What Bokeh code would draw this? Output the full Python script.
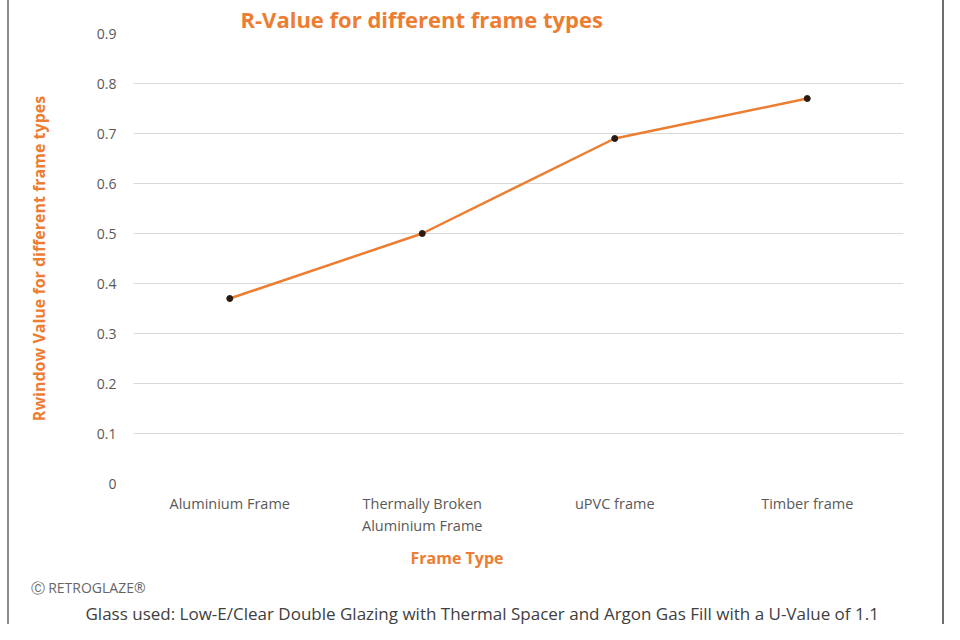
from bokeh.plotting import figure
from bokeh.models import FactorRange, Range1d, FixedTicker, PrintfTickFormatter, Title, ColumnDataSource
from bokeh.embed import file_html
from bokeh.resources import INLINE

categories = ["Aluminium Frame", "Thermally Broken\nAluminium Frame", "uPVC frame", "Timber frame"]
r_values = [0.37, 0.50, 0.69, 0.77]
y_ticks = [0, 0.1, 0.2, 0.3, 0.4, 0.5, 0.6, 0.7, 0.8, 0.9]

title_text = "R-Value for different frame types"
x_title = "Frame Type"
y_title = "Rwindow Value for different frame types"
copyright_text = "\u24b8 RETROGLAZE\u00ae"
footnote = "Glass used: Low-E/Clear Double Glazing with Thermal Spacer and Argon Gas Fill with a U-Value of 1.1"

ORANGE = "#ED7D31"
FONT = "Open Sans"

p = figure(width=944, height=624, output_backend="svg", toolbar_location=None,
           x_range=FactorRange(factors=categories, range_padding=0),
           y_range=Range1d(0, 0.9),
           min_border_left=133, min_border_right=41, min_border_top=33, min_border_bottom=141)
p.outline_line_color = None
p.background_fill_color = None
p.border_fill_color = None
p.styles = {"box-shadow": "inset 7px 0 0 white, inset 9px 0 0 #8c8c8c, inset -2px 0 0 #6e6e6e"}

src = ColumnDataSource(dict(x=categories, y=r_values))
p.line("x", "y", source=src, line_color=ORANGE, line_width=2.5)
p.scatter("x", "y", source=src, size=6, fill_color="#2b1a10", line_color="#2b1a10")

p.xgrid.grid_line_color = None
p.ygrid.grid_line_color = "#D9D9D9"
p.ygrid.grid_line_width = 1.2

# chart title (above)
p.title.text = title_text
p.title.text_font = FONT
p.title.text_font_style = "bold"
p.title.text_font_size = "22px"
p.title.text_color = ORANGE
p.title.align = "left"
p.title.offset = 107
p.title.standoff = 0

ya = p.yaxis[0]
ya.ticker = FixedTicker(ticks=y_ticks)
ya.formatter = PrintfTickFormatter(format="%.1f")
ya.major_label_overrides = {0: "0"}
ya.axis_line_color = None
ya.major_tick_line_color = None
ya.minor_tick_line_color = None
ya.major_tick_out = 0
ya.major_label_standoff = 17
ya.major_label_text_font = FONT
ya.major_label_text_font_size = "14px"
ya.major_label_text_color = "#595959"
ya.axis_label = y_title
ya.axis_label_text_font = FONT
ya.axis_label_text_font_style = "bold"
ya.axis_label_text_font_size = "16px"
ya.axis_label_text_color = ORANGE
ya.axis_label_standoff = 44

xa = p.xaxis[0]
xa.axis_line_color = None
xa.major_tick_line_color = None
xa.major_tick_out = 0
xa.major_label_standoff = 10
xa.major_label_text_font = FONT
xa.major_label_text_font_size = "14.5px"
xa.major_label_text_color = "#595959"

p.add_layout(Title(text=x_title, text_font=FONT, text_font_style="bold", text_font_size="16px",
                   text_color=ORANGE, align="left", offset=277, standoff=14,
                   vertical_align="middle"), "below")
p.add_layout(Title(text=copyright_text, text_font=FONT, text_font_style="normal",
                   text_font_size="14px", text_color="#666666", align="left", offset=-103,
                   standoff=2, vertical_align="top"), "below")
p.add_layout(Title(text=footnote, text_font=FONT, text_font_style="normal",
                   text_font_size="17px", text_color="#404040", align="left", offset=-48,
                   standoff=0, vertical_align="bottom"), "below")

open("out.html", "w").write(file_html(p, INLINE))
